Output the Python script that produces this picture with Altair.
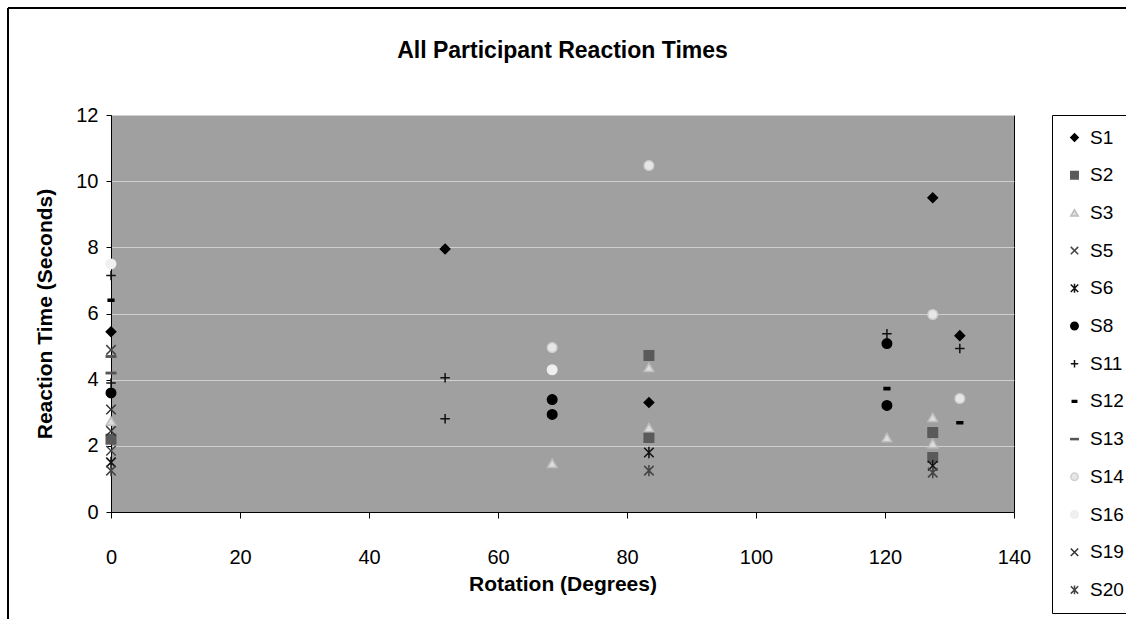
import altair as alt
import pandas as pd

# ---- data ----
series_order = ["S1", "S2", "S3", "S5", "S6", "S8", "S11", "S12", "S13", "S14", "S16", "S19", "S20"]

series = (["S1"] * 5 + ["S2"] * 5 + ["S3"] * 7 + ["S5"] * 2 + ["S6"] * 3 + ["S8"] * 5 +
          ["S11"] * 6 + ["S12"] * 3 + ["S13"] * 2 + ["S14"] * 4 + ["S16"] * 2 + ["S19"] * 2 + ["S20"] * 3)
rotation = [0, 51.8, 83.4, 127.4, 131.6,
            0, 83.4, 83.4, 127.4, 127.4,
            0, 68.4, 83.4, 83.4, 120.3, 127.4, 127.4,
            0, 0,
            0, 83.4, 127.4,
            0, 68.4, 68.4, 120.3, 120.3,
            0, 0, 51.8, 51.8, 120.3, 131.6,
            0, 120.3, 131.6,
            0, 0,
            68.4, 83.4, 127.4, 131.6,
            0, 68.4,
            0, 0,
            0, 83.4, 127.4]
reaction_time = [5.45, 7.95, 3.31, 9.5, 5.33,
                 2.2, 4.73, 2.25, 2.4, 1.65,
                 2.75, 1.47, 4.37, 2.55, 2.25, 2.86, 2.07,
                 1.85, 4.9,
                 1.5, 1.8, 1.4,
                 3.6, 3.4, 2.95, 5.09, 3.22,
                 7.15, 3.9, 4.06, 2.82, 5.39, 4.94,
                 6.4, 3.73, 2.7,
                 4.7, 4.2,
                 4.97, 10.47, 5.97, 3.43,
                 7.5, 4.3,
                 3.1, 2.45,
                 1.25, 1.25, 1.19]

x_ticks = [0, 20, 40, 60, 80, 100, 120, 140]
y_ticks = [0, 2, 4, 6, 8, 10, 12]

df = pd.DataFrame({"Series": series, "Rotation": rotation, "RT": reaction_time})

X_PATH = "M-1,-1L1,1M-1,1L1,-1"
AST_PATH = "M-1,-1L1,1M-1,1L1,-1M0,-1.2L0,1.2"
PLUS_PATH = "M-1,0L1,0M0,-1L0,1"
SHORT_DASH = "M-0.6,-0.22L0.6,-0.22L0.6,0.22L-0.6,0.22Z"
LONG_DASH = "M-1,-0.14L1,-0.14L1,0.14L-1,0.14Z"

shapes = ["diamond", "square", "triangle-up", X_PATH, AST_PATH, "circle", PLUS_PATH,
          SHORT_DASH, LONG_DASH, "circle", "circle", X_PATH, AST_PATH]
fills = ["#000000", "#5a5a5a", "#dcdcdc", "transparent", "transparent", "#000000", "transparent",
         "#000000", "#555555", "#e6e6e6", "#f0f0f0", "transparent", "transparent"]
strokes = ["#000000", "#5a5a5a", "#bdbdbd", "#444444", "#111111", "#000000", "#111111",
           "#000000", "#555555", "#cfcfcf", "#eeeeee", "#333333", "#444444"]

FONT = "Liberation Sans"

points = alt.Chart(df).mark_point(size=90, strokeWidth=1.5, opacity=1).encode(
    x=alt.X("Rotation:Q", scale=alt.Scale(domain=[0, 140], nice=False, zero=True),
            axis=alt.Axis(title="Rotation (Degrees)", values=x_ticks, grid=False, tickSize=6,
                          labelPadding=29, titlePadding=6, format="d", labelFlush=False)),
    y=alt.Y("RT:Q", scale=alt.Scale(domain=[0, 12], nice=False),
            axis=alt.Axis(title="Reaction Time (Seconds)", values=y_ticks, grid=True, tickSize=5,
                          labelPadding=8, titlePadding=20, format="d", labelFlush=False)),
    shape=alt.Shape("Series:N", scale=alt.Scale(domain=series_order, range=shapes),
                    sort=series_order, legend=alt.Legend(title=None)),
    fill=alt.Fill("Series:N", scale=alt.Scale(domain=series_order, range=fills),
                  sort=series_order, legend=alt.Legend(title=None)),
    stroke=alt.Stroke("Series:N", scale=alt.Scale(domain=series_order, range=strokes),
                      sort=series_order, legend=alt.Legend(title=None)),
)

frame = alt.Chart(df).mark_rect(fill="transparent", stroke="#000000", strokeWidth=1, clip=False).encode(
    x=alt.value(-103), x2=alt.value(1040), y=alt.value(-107), y2=alt.value(520)
)

chart = alt.layer(frame, points).properties(
    width=903,
    height=397,
    title=alt.TitleParams("All Participant Reaction Times", fontSize=23, font=FONT,
                          fontWeight="bold", anchor="middle", offset=0, dy=55, color="#000000",
                          frame="group"),
    padding={"left": 111, "top": 115, "right": 112, "bottom": 107},
    autosize=alt.AutoSizeParams(type="none"),
    background="#ffffff",
).configure_view(
    fill="#a0a0a0", stroke="#000000", strokeWidth=1
).configure_axis(
    labelFont=FONT, titleFont=FONT, labelFontSize=20, titleFontSize=21,
    labelColor="#000000", titleColor="#000000", titleFontWeight="bold",
    domainColor="#000000", tickColor="#000000", gridColor="#d0d0d0", gridWidth=1,
    domainWidth=1,
).configure_legend(
    orient="none", legendX=941, legendY=0,
    labelFont=FONT, labelFontSize=19, labelColor="#000000",
    symbolSize=55, symbolStrokeWidth=1.5, rowPadding=17.7,
    padding=13, strokeColor="#000000", fillColor="#ffffff", labelOffset=6,
    symbolType="circle",
)

chart.save("out.html", embed_options={"renderer": "svg", "actions": False})
